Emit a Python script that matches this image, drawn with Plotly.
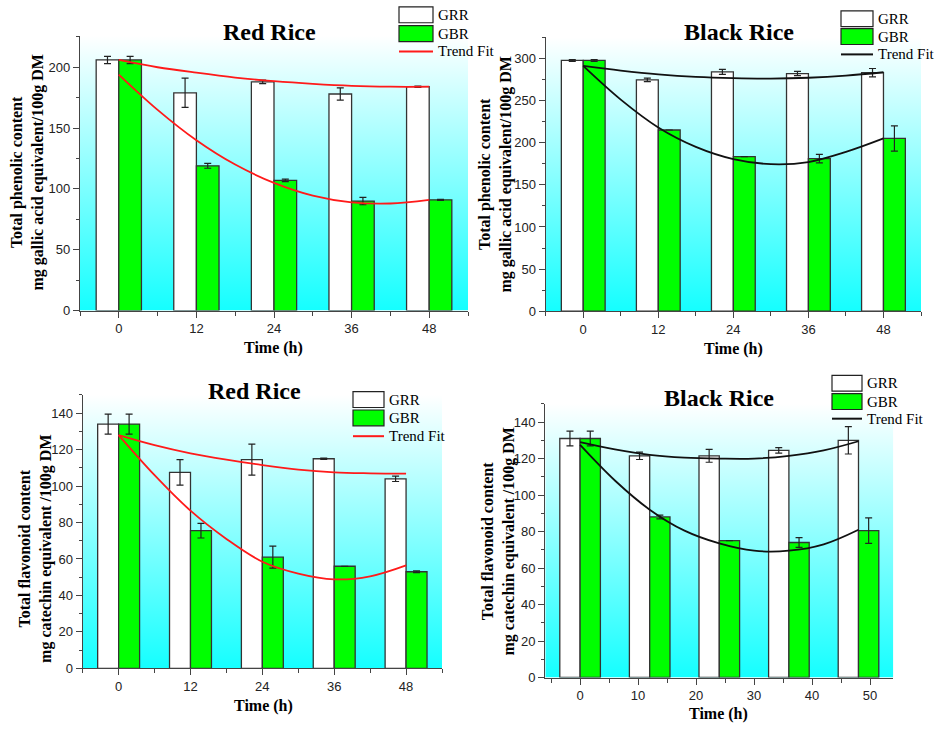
import plotly.graph_objects as go

W, H = 936, 733

hours = [0, 12, 24, 36, 48]
fit_hours = [0, 6, 12, 18, 24, 30, 36, 42, 48]

# (a) Red rice - total phenolic content
red_tpc_grr = [206, 179, 188, 178, 184]
red_tpc_grr_err = [3, 12, 1.5, 5, 0.5]
red_tpc_gbr = [206, 119, 107, 90, 91]
red_tpc_gbr_err = [3, 2, 1, 3, 0.5]
red_tpc_fit_grr = [206, 200, 195.5, 191.5, 188.5, 186.3, 184.7, 184, 184]
red_tpc_fit_gbr = [194, 165, 140, 120, 105, 94.5, 89, 88, 91]

# (b) Black rice - total phenolic content
black_tpc_grr = [297.5, 274.5, 284, 282, 283]
black_tpc_grr_err = [1, 2, 3, 2.5, 5]
black_tpc_gbr = [297.5, 215, 183.5, 181, 205]
black_tpc_gbr_err = [1, 0, 0, 5, 15]
black_tpc_fit_grr = [291, 285.5, 281, 278, 276.5, 276, 277, 279.5, 283.5]
black_tpc_fit_gbr = [291, 251, 218, 195, 180.5, 174.5, 177, 189, 205]

# (c) Red rice - total flavonoid content
red_tfc_grr = [134, 107.5, 114.5, 115, 104]
red_tfc_grr_err = [5.5, 7, 8.5, 0.3, 1.5]
red_tfc_gbr = [134, 75.5, 61, 56, 53]
red_tfc_gbr_err = [5.5, 4, 6, 0, 0.5]
red_tfc_fit_grr = [128, 122.5, 118, 114.5, 111.5, 109, 107.5, 107, 106.8]
red_tfc_fit_gbr = [128, 106, 86.5, 71, 58.5, 52, 48.8, 50.5, 56.5]

# (d) Black rice - total flavonoid content
black_tfc_grr = [131, 121.5, 121.5, 124.5, 130]
black_tfc_grr_err = [4, 2, 3.5, 1.5, 7.5]
black_tfc_gbr = [131, 88, 75, 74, 80.5]
black_tfc_gbr_err = [4, 1, 0, 2.7, 7]
black_tfc_fit_grr = [129, 125, 122, 120.5, 120, 120, 121.5, 124.5, 129.5]
black_tfc_fit_gbr = [127.5, 108, 92, 80.5, 73.5, 69.5, 69.5, 73, 81]

series_names = ["GRR", "GBR", "Trend Fit"]
panel_titles = ["Red Rice", "Black Rice", "Red Rice", "Black Rice"]
x_title = "Time (h)"
y_titles = [
    "Total phenolic content<br>mg gallic acid equivalent/100g DM",
    "Total phenolic content<br>mg gallic acid equivalent/100g DM",
    "Total flavonoid content<br>mg catechin equivalent /100g DM",
    "Total flavonoid content<br>mg catechin equivalent /100g DM",
]

SERIF = "Liberation Serif, Times New Roman, serif"
SANS = "Liberation Sans, Arial, sans-serif"
GREEN = "#00FF00"
EDGE = "#333333"


def px(x):
    return x / W


def py(y):
    return 1 - y / H


panels = [
    dict(grr=red_tpc_grr, grr_err=red_tpc_grr_err, gbr=red_tpc_gbr, gbr_err=red_tpc_gbr_err,
         fit1=red_tpc_fit_grr, fit2=red_tpc_fit_gbr, fitc="#FF1A1A",
         ytop=226, ydt=50, ymin=25, xdt=12, xmin=6,
         box=(80, 468, 36, 314), title=(269, 32), xt=(273, 352), yt=(27.5, 175),
         leg=(399, 433, 15, 34, 52)),
    dict(grr=black_tpc_grr, grr_err=black_tpc_grr_err, gbr=black_tpc_gbr, gbr_err=black_tpc_gbr_err,
         fit1=black_tpc_fit_grr, fit2=black_tpc_fit_gbr, fitc="#111111",
         ytop=325, ydt=50, ymin=25, xdt=12, xmin=6,
         box=(545.7, 921, 37.7, 314.7), title=(739, 32.5), xt=(733, 353), yt=(495.5, 177),
         leg=(841, 873, 19, 37, 55)),
    dict(grr=red_tfc_grr, grr_err=red_tfc_grr_err, gbr=red_tfc_gbr, gbr_err=red_tfc_gbr_err,
         fit1=red_tfc_fit_grr, fit2=red_tfc_fit_gbr, fitc="#FF1A1A",
         ytop=150, ydt=20, ymin=10, xdt=12, xmin=6,
         box=(82.7, 442, 399.3, 675.7), title=(255, 395), xt=(263, 714), yt=(36, 555),
         leg=(353, 384, 404, 422.5, 441)),
    dict(grr=black_tfc_grr, grr_err=black_tfc_grr_err, gbr=black_tfc_gbr, gbr_err=black_tfc_gbr_err,
         fit1=black_tfc_fit_grr, fit2=black_tfc_fit_gbr, fitc="#111111",
         ytop=150, ydt=20, ymin=10, xdt=10, xmin=5,
         box=(545.3, 893.3, 408.3, 685), title=(719, 402), xt=(718, 722), yt=(498.5, 548),
         leg=(832, 862, 387.5, 406, 423.3)),
]

XR = [-6, 54]
BAR_W = 3.5

fig = go.Figure()
layout = dict(
    width=W, height=H, margin=dict(l=0, r=0, t=0, b=0),
    paper_bgcolor="white", plot_bgcolor="white",
    showlegend=False, barmode="overlay",
)
shapes = []
annotations = []

for i, p in enumerate(panels, start=1):
    k = "" if i == 1 else str(i)
    ov = str(i + 4)
    x0, x1, y0, y1 = p["box"]
    xa = "x" + k
    ya = "y" + k
    yo = "y" + ov
    # gradient background on base subplot
    fig.add_trace(go.Scatter(
        x=[XR[0], XR[1], XR[1], XR[0], XR[0]], y=[0, 0, p["ytop"], p["ytop"], 0],
        mode="lines", line=dict(width=0), fill="toself",
        fillgradient=dict(type="vertical", colorscale=[[0, "#12FFFF"], [1, "#FFFFFF"]],
                          start=0, stop=p["ytop"]),
        hoverinfo="skip", xaxis=xa, yaxis=ya,
    ))
    # bars on overlay subplot
    fig.add_trace(go.Bar(
        x=hours, y=p["grr"], name=series_names[0], offset=-BAR_W, width=BAR_W,
        marker=dict(color="white", line=dict(color=EDGE, width=1.3)),
        error_y=dict(type="data", array=p["grr_err"], color="#222", thickness=1.2, width=3.5),
        xaxis=xa, yaxis=yo,
    ))
    fig.add_trace(go.Bar(
        x=hours, y=p["gbr"], name=series_names[1], offset=0, width=BAR_W,
        marker=dict(color=GREEN, line=dict(color=EDGE, width=1.3)),
        error_y=dict(type="data", array=p["gbr_err"], color="#222", thickness=1.2, width=3.5),
        xaxis=xa, yaxis=yo,
    ))
    for fit in (p["fit1"], p["fit2"]):
        fig.add_trace(go.Scatter(
            x=fit_hours, y=fit, name=series_names[2], mode="lines",
            line=dict(color=p["fitc"], width=1.8, shape="spline", smoothing=1.0),
            xaxis=xa, yaxis=yo,
        ))

    common_tick = dict(tickfont=dict(family=SANS, size=13, color="#222"),
                       showgrid=False, zeroline=False, showline=True,
                       linecolor="#444", linewidth=1.3, ticks="outside",
                       tickcolor="#444", ticklen=6, tickwidth=1)
    layout["xaxis" + k] = dict(
        domain=[px(x0), px(x1)], range=XR, anchor=ya,
        tick0=0, dtick=p["xdt"],
        minor=dict(dtick=p["xmin"], tick0=0, ticks="outside", ticklen=4, tickcolor="#444"),
        **common_tick)
    layout["yaxis" + k] = dict(
        domain=[py(y1), py(y0)], range=[0, p["ytop"]], anchor=xa,
        tick0=0, dtick=p["ydt"],
        minor=dict(dtick=p["ymin"], tick0=0, ticks="outside", ticklen=3, tickcolor="#444"),
        **common_tick)
    layout["yaxis" + ov] = dict(
        overlaying=ya, range=[0, p["ytop"]], visible=False, anchor=xa)

    # titles
    annotations.append(dict(text="<b>%s</b>" % panel_titles[i - 1], x=px(p["title"][0]), y=py(p["title"][1]),
                            xref="paper", yref="paper", showarrow=False, xanchor="center", yanchor="middle",
                            font=dict(family=SERIF, size=24, color="black")))
    annotations.append(dict(text="<b>%s</b>" % x_title, x=px(p["xt"][0]), y=py(p["xt"][1]),
                            xref="paper", yref="paper", showarrow=False, xanchor="center", yanchor="middle",
                            font=dict(family=SERIF, size=16, color="black")))
    annotations.append(dict(text="<b>%s</b>" % y_titles[i - 1], x=px(p["yt"][0]), y=py(p["yt"][1]),
                            xref="paper", yref="paper", showarrow=False, xanchor="center", yanchor="middle",
                            textangle=-90, font=dict(family=SERIF, size=16, color="black")))

    # manual legend
    lx0, lx1, ly_grr, ly_gbr, ly_fit = p["leg"]
    bh = 8
    shapes.append(dict(type="rect", xref="paper", yref="paper",
                       x0=px(lx0), x1=px(lx1), y0=py(ly_grr - bh), y1=py(ly_grr + bh),
                       fillcolor="white", line=dict(color="#222", width=1.2)))
    shapes.append(dict(type="rect", xref="paper", yref="paper",
                       x0=px(lx0), x1=px(lx1), y0=py(ly_gbr - bh), y1=py(ly_gbr + bh),
                       fillcolor=GREEN, line=dict(color="#222", width=1.2)))
    shapes.append(dict(type="line", xref="paper", yref="paper",
                       x0=px(lx0), x1=px(lx1), y0=py(ly_fit), y1=py(ly_fit),
                       line=dict(color=p["fitc"], width=2)))
    for name, ly in zip(series_names, (ly_grr, ly_gbr, ly_fit)):
        annotations.append(dict(text=name, x=px(lx1 + 3), y=py(ly), xref="paper", yref="paper",
                                showarrow=False, xanchor="left", yanchor="middle",
                                font=dict(family=SERIF, size=15, color="black")))

layout["shapes"] = shapes
layout["annotations"] = annotations
fig.update_layout(**layout)
fig.write_html("out.html", config={"displayModeBar": False},
               post_script="document.body.style.margin='0px';")
